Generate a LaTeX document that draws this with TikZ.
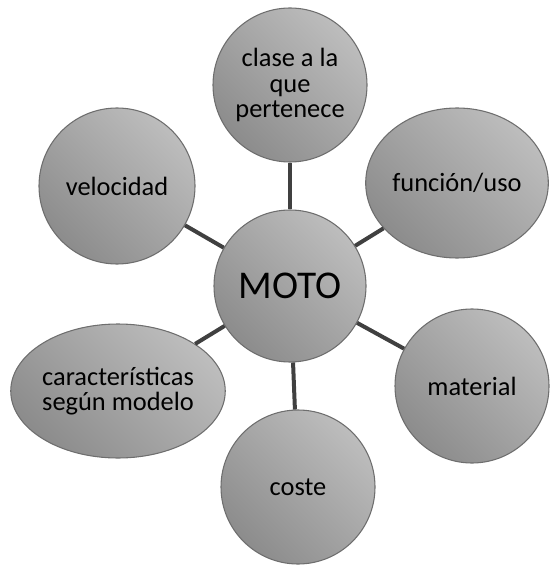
\documentclass[tikz,border=0pt]{standalone}
\usepackage{fontspec}
\setmainfont{Carlito}
\usetikzlibrary{shapes.geometric}
\definecolor{bubblelight}{HTML}{BDBDBD}
\definecolor{bubbledark}{HTML}{8C8C8C}
\definecolor{rim}{HTML}{6E6E6E}
\definecolor{spoke}{HTML}{404040}
\tikzset{
	x=0.75pt, y=-0.75pt, % one unit is one pixel of the original
	bubble/.style={draw=rim, line width=0.8pt, inner sep=0pt, align=center,
		top color=bubblelight, bottom color=bubbledark, shading angle=-45,
		font=\fontsize{19.8}{19}\selectfont},
	round/.style={bubble, circle, minimum size=115.5pt},
	oval/.style={bubble, ellipse},
	spoke/.style={draw=spoke, line width=3pt},
}
\begin{document}
\begin{tikzpicture}
	\useasboundingbox (0,0) rectangle (555,566);

	\node[round, font=\fontsize{29.5}{34}\selectfont, minimum size=114pt] (moto) at (290,286) {MOTO};
	\node[round] (clase) at (290,85) {clase a la\\que\\pertenece};
	\node[oval, minimum width=136.5pt, minimum height=112.5pt] (funcion) at (457,183) {función/uso};
	\node[round] (material) at (472,386) {material};
	\node[round] (coste) at (298,487) {coste};
	\node[oval, minimum width=154.5pt, minimum height=100.5pt] (caract) at (118,391) {características\\según modelo};
	\node[round, minimum size=117pt] (velocidad) at (117,186) {velocidad};

	\draw[spoke] (moto) -- (clase);
	\draw[spoke] (moto) -- (funcion);
	\draw[spoke] (moto) -- (material);
	\draw[spoke] (moto) -- (coste);
	\draw[spoke] (moto) -- (caract);
	\draw[spoke] (moto) -- (velocidad);
\end{tikzpicture}
\end{document}
